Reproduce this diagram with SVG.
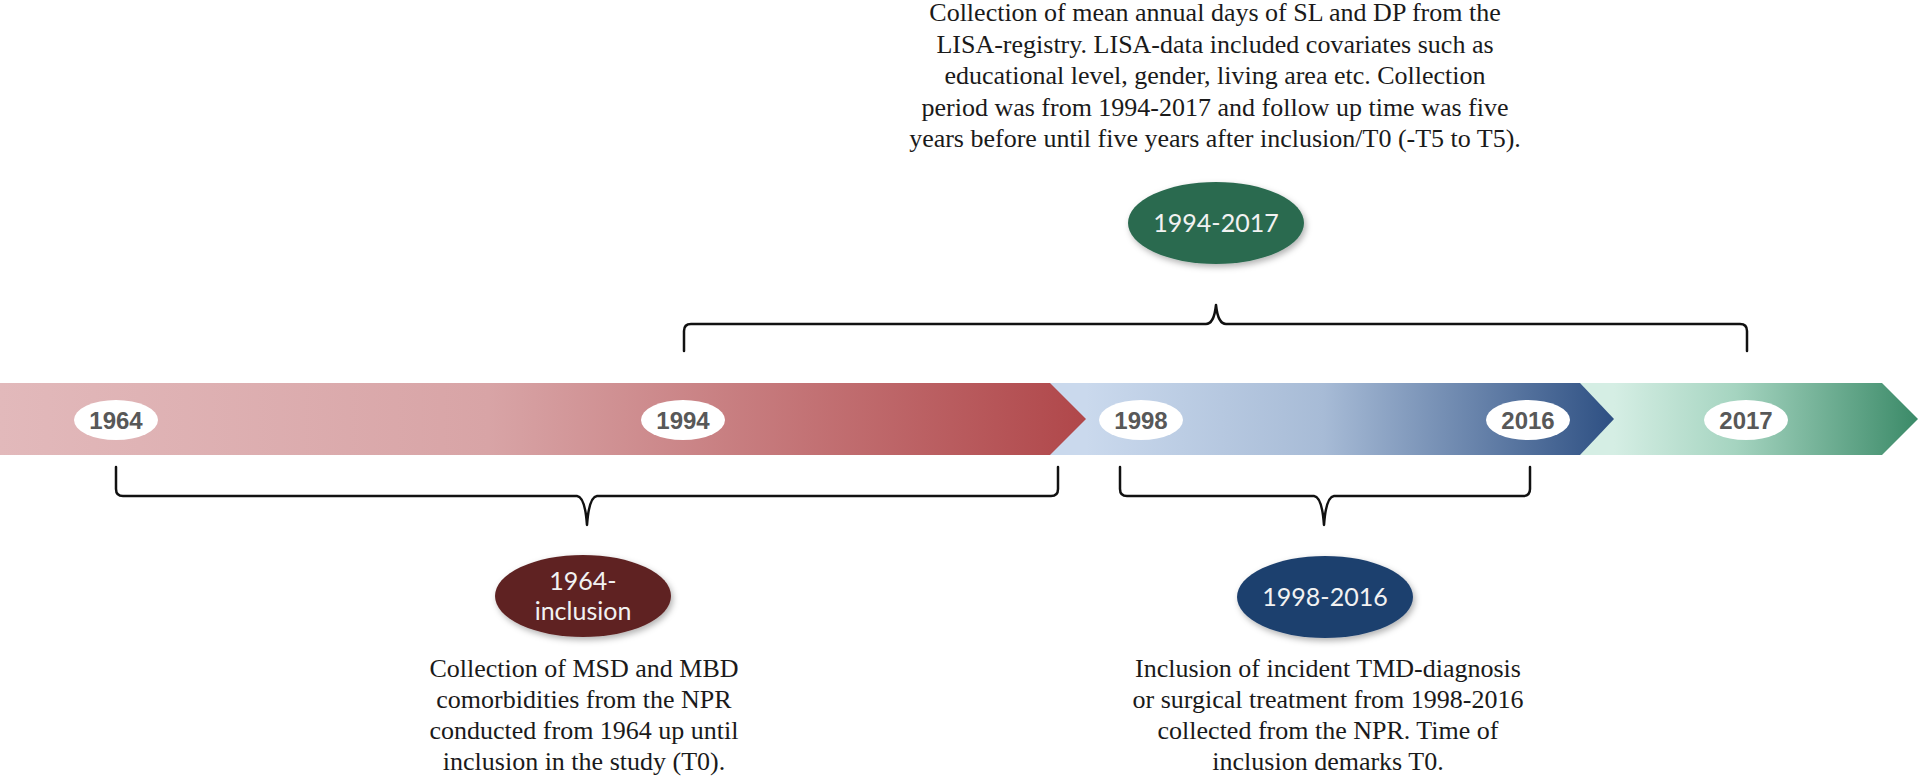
<svg xmlns="http://www.w3.org/2000/svg" width="1920" height="781" viewBox="0 0 1920 781">
  <defs>
    <linearGradient id="gRed" x1="0" y1="0" x2="1086" y2="0" gradientUnits="userSpaceOnUse">
      <stop offset="0" stop-color="#e2b9bb"/>
      <stop offset="0.45" stop-color="#d8a4a6"/>
      <stop offset="1" stop-color="#b0474a"/>
    </linearGradient>
    <linearGradient id="gBlue" x1="1086" y1="0" x2="1614" y2="0" gradientUnits="userSpaceOnUse">
      <stop offset="0" stop-color="#cad9ed"/>
      <stop offset="0.45" stop-color="#a7bbd6"/>
      <stop offset="1" stop-color="#2e5083"/>
    </linearGradient>
    <linearGradient id="gGreen" x1="1614" y1="0" x2="1918" y2="0" gradientUnits="userSpaceOnUse">
      <stop offset="0" stop-color="#d5eee4"/>
      <stop offset="0.4" stop-color="#a5d4c0"/>
      <stop offset="1" stop-color="#3b8a68"/>
    </linearGradient>
    <filter id="shadow" x="-20%" y="-30%" width="140%" height="170%">
      <feDropShadow dx="2" dy="3" stdDeviation="3" flood-color="#000" flood-opacity="0.3"/>
    </filter>
  </defs>
  <style>
    .yearBg { fill: #ffffff; }
    .year { font-family: "Liberation Sans", Arial, sans-serif; font-weight: bold; font-size: 24px; fill: #585858; text-anchor: middle; }
    .pill { filter: url(#shadow); }
    .pillText { font-family: Lato, "Open Sans", sans-serif; font-size: 25px; fill: #f2f2f2; text-anchor: middle; }
    .desc { font-family: "Liberation Serif", "Times New Roman", serif; font-size: 26px; fill: #1a1a1a; text-anchor: middle; }
    .brace { fill: none; stroke: #111111; stroke-width: 2.5; stroke-linejoin: round; stroke-linecap: round; }
  </style>
  <rect width="1920" height="781" fill="#ffffff"/>

  <g id="timeline-band">
    <path id="band-green" d="M1580,383 H1882 L1918,419 L1882,455 H1580 Z" fill="url(#gGreen)"/>
    <path id="band-blue" d="M1050,383 H1580 L1614,419 L1580,455 H1050 Z" fill="url(#gBlue)"/>
    <path id="band-red" d="M0,383 H1050 L1086,419 L1050,455 H0 Z" fill="url(#gRed)"/>
  </g>

  <g id="year-1964"><ellipse class="yearBg" cx="116" cy="420" rx="42" ry="20"/><text class="year" x="116" y="429">1964</text></g>
  <g id="year-1994"><ellipse class="yearBg" cx="683" cy="420" rx="42" ry="20"/><text class="year" x="683" y="429">1994</text></g>
  <g id="year-1998"><ellipse class="yearBg" cx="1141" cy="420" rx="42" ry="20"/><text class="year" x="1141" y="429">1998</text></g>
  <g id="year-2016"><ellipse class="yearBg" cx="1528" cy="420" rx="42" ry="20"/><text class="year" x="1528" y="429">2016</text></g>
  <g id="year-2017"><ellipse class="yearBg" cx="1746" cy="420" rx="42" ry="20"/><text class="year" x="1746" y="429">2017</text></g>

  <g id="connectors">
    <path id="brace-top" class="brace" d="M684,351 L684,331 Q684,324 691,324 L1206,324 Q1214,324 1216,305 Q1218,324 1226,324 L1740,324 Q1747,324 1747,331 L1747,351"/>
    <path id="brace-bottom-left" class="brace" d="M116,467 L116,489 Q116,496 123,496 L577,496 Q585,497 587,525 Q589,497 597,496 L1051,496 Q1058,496 1058,489 L1058,467"/>
    <path id="brace-bottom-right" class="brace" d="M1120,467 L1120,489 Q1120,496 1127,496 L1314,496 Q1322,497 1324,525 Q1326,497 1334,496 L1523,496 Q1530,496 1530,489 L1530,467"/>
  </g>

  <g id="node-1994-2017">
    <ellipse class="pill" cx="1216" cy="223" rx="88" ry="41" fill="#2b6a50"/>
    <text class="pillText" x="1216" y="232">1994-2017</text>
  </g>
  <g id="node-1964-inclusion">
    <ellipse class="pill" cx="583" cy="596" rx="88" ry="41" fill="#5e2323"/>
    <text class="pillText" x="583" y="590">1964-</text>
    <text class="pillText" x="583" y="620">inclusion</text>
  </g>
  <g id="node-1998-2016">
    <ellipse class="pill" cx="1325" cy="597" rx="88" ry="41" fill="#1f416e"/>
    <text class="pillText" x="1325" y="606">1998-2016</text>
  </g>

  <g id="text-top">
    <text class="desc" x="1215" y="21">Collection of mean annual days of SL and DP from the</text>
    <text class="desc" x="1215" y="52.5">LISA-registry. LISA-data included covariates such as</text>
    <text class="desc" x="1215" y="84">educational level, gender, living area etc. Collection</text>
    <text class="desc" x="1215" y="115.5">period was from 1994-2017 and follow up time was five</text>
    <text class="desc" x="1215" y="147">years before until five years after inclusion/T0 (-T5 to T5).</text>
  </g>
  <g id="text-bottom-left">
    <text class="desc" x="584" y="677">Collection of MSD and MBD</text>
    <text class="desc" x="584" y="708">comorbidities from the NPR</text>
    <text class="desc" x="584" y="739">conducted from 1964 up until</text>
    <text class="desc" x="584" y="770">inclusion in the study (T0).</text>
  </g>
  <g id="text-bottom-right">
    <text class="desc" x="1328" y="677">Inclusion of incident TMD-diagnosis</text>
    <text class="desc" x="1328" y="708">or surgical treatment from 1998-2016</text>
    <text class="desc" x="1328" y="739">collected from the NPR. Time of</text>
    <text class="desc" x="1328" y="770">inclusion demarks T0.</text>
  </g>
</svg>
